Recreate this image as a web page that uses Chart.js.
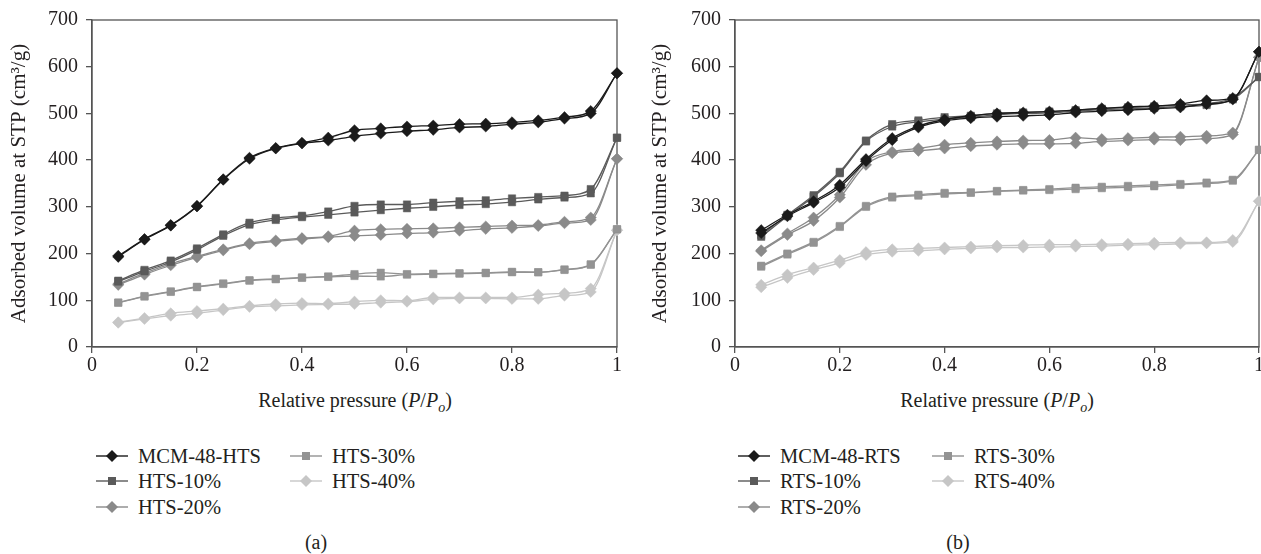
<!DOCTYPE html>
<html><head><meta charset="utf-8">
<script src="https://cdn.jsdelivr.net/npm/chart.js@4"></script>
<style>
html,body{margin:0;padding:0;background:#fff;overflow:hidden;width:1261px;height:554px;}
#wrap{position:relative;width:1261px;height:554px;overflow:hidden;font-family:"Liberation Serif",serif;color:#231f20;}
canvas{position:absolute;top:0;}
.t{position:absolute;white-space:nowrap;font-size:20px;line-height:20px;transform:translate(-50%,-50%);}
.lg{position:absolute;white-space:nowrap;font-size:20.5px;line-height:20px;transform:translateY(-50%);display:flex;align-items:center;}
.lg svg{margin-right:10px;}
</style></head><body><div id="wrap">
<canvas id="ca" width="640" height="380" style="left:0px;width:640px;height:380px"></canvas>
<canvas id="cb" width="640" height="380" style="left:630px;width:640px;height:380px"></canvas>
<div class="t" style="left:355px;top:404px">Relative pressure (<i>P</i>/<i>P<sub style="font-size:14px">o</sub></i>)</div>
<div class="t" style="left:997px;top:404px">Relative pressure (<i>P</i>/<i>P<sub style="font-size:14px">o</sub></i>)</div>
<div class="t" style="left:316px;top:542px">(a)</div>
<div class="t" style="left:958px;top:542px">(b)</div>
</div>
<script>
// ---- data ----
const pressure = [0.05,0.1,0.15,0.2,0.25,0.3,0.35,0.4,0.45,0.5,0.55,0.6,0.65,0.7,0.75,0.8,0.85,0.9,0.95,1.0];
const yTicks = [0,100,200,300,400,500,600,700];
const xTicks = [0,0.2,0.4,0.6,0.8,1];

const namesA = ['MCM-48-HTS','HTS-10%','HTS-20%','HTS-30%','HTS-40%'];
const namesB = ['MCM-48-RTS','RTS-10%','RTS-20%','RTS-30%','RTS-40%'];

// panel (a) adsorption / desorption branches
const mcmHtsAds = [193,230,260,301,358,403,425,436,442,451,457,462,465,470,472,477,481,489,500,586];
const mcmHtsDes = [195,231,261,302,359,405,426,437,448,464,468,472,474,477,478,481,485,492,505,586];
const hts10Ads = [140,162,182,208,238,262,272,278,283,288,293,297,300,304,306,310,316,320,329,448];
const hts10Des = [142,165,185,211,241,266,276,281,290,302,305,305,309,312,314,318,321,324,338,448];
const hts20Ads = [133,155,175,192,207,220,226,231,235,238,240,243,245,249,253,255,259,265,272,403];
const hts20Des = [135,158,178,194,209,222,228,233,237,249,252,253,254,256,258,260,261,268,277,403];
const hts30Ads = [95,108,118,128,135,142,145,148,150,152,151,155,156,157,158,160,160,165,176,252];
const hts30Des = [95,109,119,129,136,143,146,149,151,156,159,156,157,158,159,161,160,166,177,252];
const hts40Ads = [52,60,67,72,79,86,88,90,91,92,95,97,102,104,104,103,103,110,118,250];
const hts40Des = [53,62,72,77,82,88,92,94,93,97,100,99,106,106,106,106,112,115,125,250];

// panel (b)
const mcmRtsAds = [244,280,309,342,398,443,470,484,490,493,495,497,502,505,507,510,513,520,530,632];
const mcmRtsDes = [250,283,312,347,402,447,473,487,495,500,502,504,507,511,514,516,520,528,533,632];
const rts10Ads = [236,280,322,372,440,472,482,488,492,497,500,501,505,508,510,512,515,518,530,578];
const rts10Des = [240,283,325,375,442,477,485,492,495,500,502,504,507,510,513,515,518,521,533,578];
const rts20Ads = [205,240,270,320,390,415,420,425,430,433,435,435,436,440,442,444,443,446,455,620];
const rts20Des = [207,243,277,326,397,418,425,433,437,440,442,443,448,445,447,449,450,452,459,620];
const rts30Ads = [172,198,223,257,300,320,324,328,330,333,335,336,338,340,342,344,347,350,356,422];
const rts30Des = [174,200,225,259,302,322,326,330,331,334,336,338,341,343,345,347,349,352,358,422];
const rts40Ads = [128,148,165,180,197,204,206,209,211,213,213,214,215,216,218,219,221,222,225,312];
const rts40Des = [133,155,170,186,203,209,211,213,215,217,218,219,219,220,221,223,224,224,229,312];

// ---- styles ----
const colors = ['#1a1a1a','#5a5a5a','#8a8a8a','#939393','#c6c6c6'];
const markers = ['rectRot','rect','rectRot','rect','rectRot'];
const FONT = '"Liberation Serif", serif';
const TEXT = '#231f20';
const AXIS = '#555';

function makeDatasets(names, branches) {
  const ds = [];
  names.forEach((n, i) => {
    branches[i].forEach((arr, j) => {
      ds.push({
        label: n,
        data: pressure.map((p, k) => ({x: p, y: arr[k]})),
        borderColor: colors[i], backgroundColor: colors[i],
        pointBackgroundColor: colors[i], pointBorderColor: colors[i],
        pointStyle: markers[i], pointRadius: markers[i] === 'rect' ? 5.2 : 5.6,
        pointBorderWidth: 0.5, borderWidth: 1.3,
        cubicInterpolationMode: 'monotone', clip: false
      });
    });
  });
  return ds;
}

const framePlugin = {
  id: 'frame',
  beforeDatasetsDraw(chart) {
    const a = chart.chartArea, c = chart.ctx;
    c.save(); c.strokeStyle = AXIS; c.lineWidth = 1.3;
    c.strokeRect(a.left, a.top, a.right - a.left, a.bottom - a.top);
    c.restore();
  }
};

function makeChart(id, datasets, yWidth, titlePad, rightPad) {
  return new Chart(document.getElementById(id), {
    type: 'line',
    data: {datasets},
    plugins: [framePlugin],
    options: {
      responsive: false, animation: false, devicePixelRatio: 1,
      layout: {padding: {left: 0, top: 20, right: rightPad, bottom: 0}},
      plugins: {legend: {display: false}, tooltip: {enabled: false}},
      scales: {
        x: {
          type: 'linear', min: 0, max: 1,
          afterFit: s => { s.height = 33; },
          afterBuildTicks: s => { s.ticks = xTicks.map(v => ({value: v})); },
          ticks: {font: {family: FONT, size: 20}, color: TEXT, padding: 1,
                  callback: v => String(Number(v.toFixed(1))), maxRotation: 0, autoSkip: false},
          grid: {drawOnChartArea: false, drawTicks: true, tickLength: 6, color: AXIS, lineWidth: 1.3},
          border: {display: true, color: AXIS, width: 1.3}
        },
        y: {
          min: 0, max: 700,
          afterFit: s => { s.width = yWidth; },
          afterBuildTicks: s => { s.ticks = yTicks.map(v => ({value: v})); },
          ticks: {font: {family: FONT, size: 20}, color: TEXT, padding: 8},
          grid: {drawOnChartArea: false, drawTicks: true, tickLength: 6, color: AXIS, lineWidth: 1.3},
          border: {display: true, color: AXIS, width: 1.3},
          title: {display: true, text: 'Adsorbed volume at STP (cm³/g)',
                  font: {family: FONT, size: 21}, color: TEXT, padding: {top: titlePad, bottom: 0}}
        }
      }
    }
  });
}

makeChart('ca', makeDatasets(namesA, [[mcmHtsAds,mcmHtsDes],[hts10Ads,hts10Des],[hts20Ads,hts20Des],[hts30Ads,hts30Des],[hts40Ads,hts40Des]]), 92, 7, 23);
makeChart('cb', makeDatasets(namesB, [[mcmRtsAds,mcmRtsDes],[rts10Ads,rts10Des],[rts20Ads,rts20Des],[rts30Ads,rts30Des],[rts40Ads,rts40Des]]), 105, 18, 11);

// ---- legends (HTML) ----
function markerSvg(i) {
  const c = colors[i];
  const m = markers[i] === 'rect'
    ? `<rect x="12" y="3" width="8" height="8" fill="${c}"/>`
    : `<polygon points="16,1 22,7 16,13 10,7" fill="${c}"/>`;
  return `<svg width="32" height="14" viewBox="0 0 32 14"><line x1="0" y1="7" x2="32" y2="7" stroke="${c}" stroke-width="1.4"/>${m}</svg>`;
}
function legend(names, col1, col2) {
  const pos = [[col1,456],[col1,481],[col1,507],[col2,456],[col2,481]];
  const wrap = document.getElementById('wrap');
  names.forEach((n, i) => {
    const d = document.createElement('div');
    d.className = 'lg';
    d.style.left = pos[i][0] + 'px';
    d.style.top = pos[i][1] + 'px';
    d.innerHTML = markerSvg(i) + '<span>' + n + '</span>';
    wrap.appendChild(d);
  });
}
legend(namesA, 96, 290);
legend(namesB, 738, 932);
</script>
</body></html>
